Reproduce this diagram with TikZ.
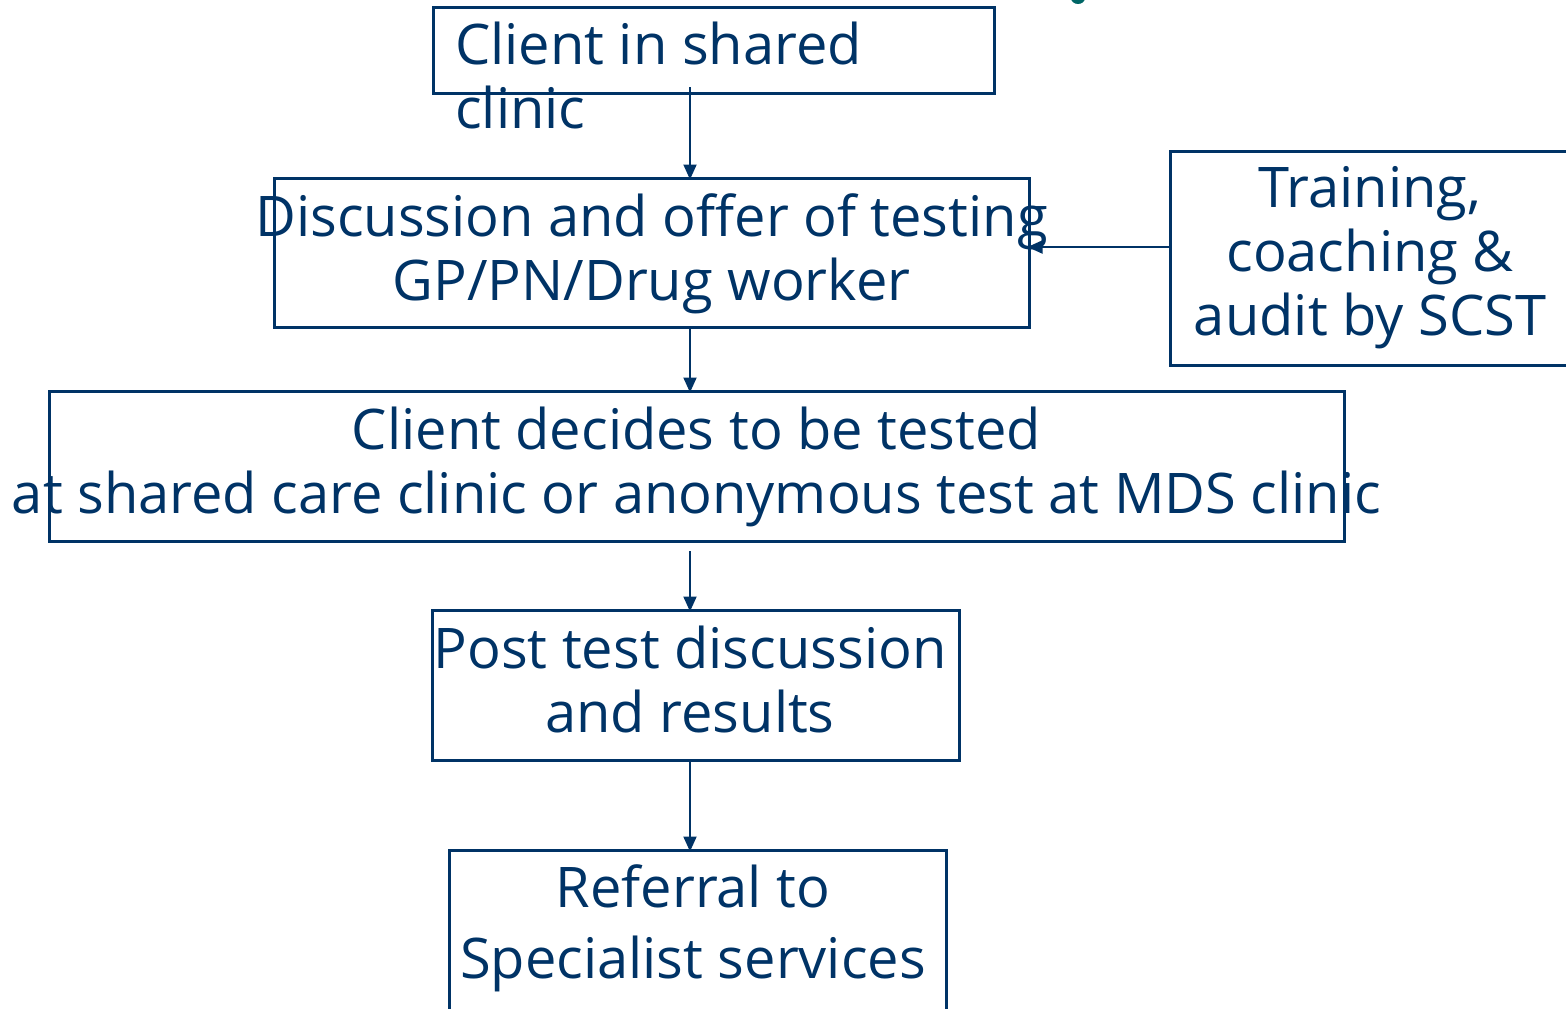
\documentclass[tikz,border=0pt]{standalone}
\usepackage{fontspec}
\setmainfont{Open Sans}
\usetikzlibrary{arrows.meta}
\definecolor{navy}{RGB}{0,51,102}
\definecolor{tealmark}{RGB}{0,102,102}
\begin{document}
\begin{tikzpicture}[x=1pt,y=-1pt,
  box/.style={draw=navy, line width=3pt, inner sep=0pt},
  lbl/.style={text=navy, inner sep=0pt, align=center, font=\fontsize{56}{64}\selectfont},
  arr/.style={draw=navy, line width=2pt, shorten >=-3pt, -{Triangle[width=13pt,length=15pt]}}]
\useasboundingbox (0,0) rectangle (1566,1009);

% boxes
\node[box, minimum width=561pt, minimum height=86pt]  (b1) at (713.5,50)  {};
\node[box, minimum width=755pt, minimum height=149pt] (b2) at (651.5,252.5) {};
\node[box, minimum width=400pt, minimum height=214pt] (tr) at (1370,258) {};
\node[box, minimum width=1295pt, minimum height=150pt] (b3) at (696.5,466) {};
\node[box, minimum width=527pt, minimum height=150pt] (b4) at (695.5,685) {};
\node[box, minimum width=497pt, minimum height=200pt] (b5) at (697.5,950) {};

% labels (anchored at the baseline of their last line)
\node[lbl, align=left, anchor=base west] (t1) at (455,128) {Client in shared\\clinic};
\node[lbl, anchor=base] (t2) at (651.5,300) {Discussion and offer of testing\\GP/PN/Drug worker};
\node[lbl, anchor=base] (ttr) at (1370,335) {Training,\\coaching \&\\audit by SCST};
\node[lbl, anchor=base] (t3) at (696.5,513) {Client decides to be tested\\at shared care clinic or anonymous test at MDS clinic};
\node[lbl, anchor=base] (t4) at (690,732) {Post test discussion\\and results};
\node[lbl, anchor=base, font=\fontsize{56}{71}\selectfont] (t5) at (693,978) {Referral to\\Specialist services};

% connectors
\coordinate (s1) at (690,87);
\coordinate (s3) at (690,551);
\coordinate (s5) at (1170,247);
\draw[arr] (s1) -- (s1 |- b2.north);
\draw[arr] (s1 |- b2.south) -- (s1 |- b3.north);
\draw[arr] (s3) -- (s3 |- b4.north);
\draw[arr] (s1 |- b4.south) -- (s1 |- b5.north);
\draw[arr] (s5) -- (s5 -| b2.east);

% cut-off mark at the top edge
\fill[tealmark] (1078,-2) ellipse [x radius=7pt, y radius=6pt];
\end{tikzpicture}
\end{document}
